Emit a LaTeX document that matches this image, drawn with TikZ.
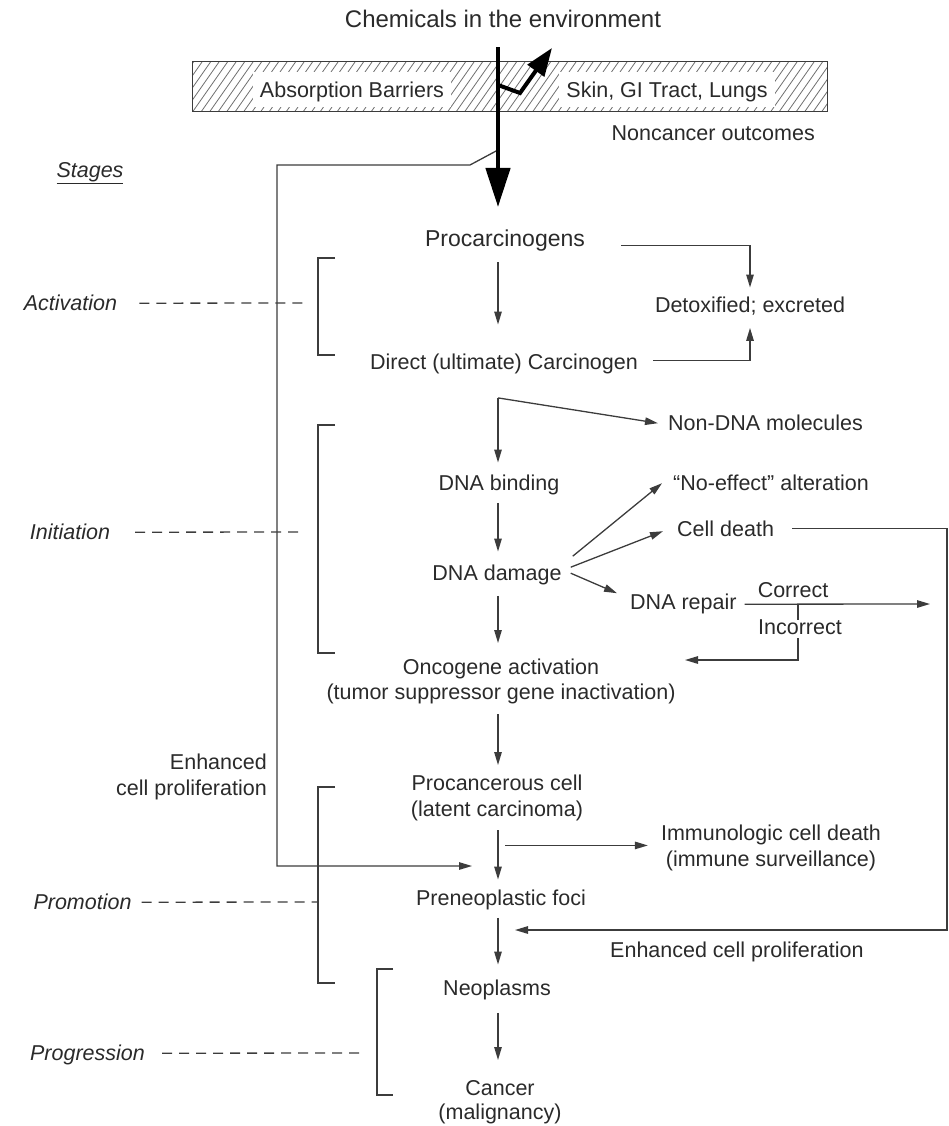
\documentclass[tikz,border=0pt]{standalone}
\usepackage{fontspec}
\setmainfont{Liberation Sans}
\usetikzlibrary{arrows.meta,calc}
\definecolor{lnc}{HTML}{3C3C3C}
\definecolor{tx}{HTML}{2A2A2A}
\definecolor{hat}{HTML}{707070}
\begin{document}
\begin{tikzpicture}[x=1pt,y=-1pt,
  every node/.style={inner sep=0pt, text=tx},
  lbl/.style={font=\fontsize{21.5}{26}\selectfont, text height=16pt, text depth=5pt, anchor=base},
  lbltwo/.style={font=\fontsize{21.5}{26}\selectfont, align=center, anchor=north},
  stg/.style={font=\fontsize{21.5}{26}\selectfont\itshape, text height=16pt, text depth=5pt, anchor=base},
  barlbl/.style={lbl, fill=white, text depth=0pt, inner ysep=9.7pt, inner xsep=7pt},
  ln/.style={draw=lnc, line width=1.3pt},
  arr/.style={ln, -{Triangle[length=13pt,width=7.5pt]}},
  dsh/.style={draw=lnc, line width=1.3pt, dash pattern=on 10pt off 7pt},
  brk/.style={draw=lnc, line width=1.3pt},
]
\useasboundingbox (0,0) rectangle (949,1126);
\coordinate (mc) at (498,0);

% ---------- absorption barrier bar ----------
\begin{scope}
  \clip (192,62) rectangle (827,112);
  \foreach \x in {150,158.5,...,840} {
    \draw[hat, line width=0.8pt] (\x,112) -- (\x+35,62);
  }
\end{scope}
\draw[lnc, line width=1pt] (192,62) rectangle (827,112);
\node[barlbl] (absorb) at (352,97.7) {Absorption Barriers};
\node[barlbl] (skin) at (667,97.7) {Skin, GI Tract, Lungs};

% ---------- texts ----------
\node[lbl, font=\fontsize{24}{28}\selectfont, text height=17pt] (title) at (503,27.5) {Chemicals in the environment};
\node[lbl, anchor=base east] (noncancer) at (815,140.7) {Noncancer outcomes};
\node[stg] (stages) at (90,177.7) {\underline{Stages}};

\node[lbl, font=\fontsize{23}{27}\selectfont, text height=17pt] (procarc) at (505,246.2) {Procarcinogens};
\node[lbl] (direct) at (504,369.7) {Direct (ultimate) Carcinogen};
\node[lbl] (detox) at (750,312.7) {Detoxified; excreted};

\node[lbl, anchor=base west] (nondna) at (668,430.7) {Non-DNA molecules};
\node[lbl] (dnabind) at (499,490.7) {DNA binding};
\node[lbl, anchor=base west] (noeffect) at (673,490.7) {“No-effect” alteration};
\node[lbl, anchor=base west] (celldeath) at (677,536.7) {Cell death};
\node[lbl] (dnadamage) at (497,580.7) {DNA damage};
\node[lbl, anchor=base west] (dnarepair) at (630,609.7) {DNA repair};
\node[lbl] (correct) at (793,597.7) {Correct};

\node[lbltwo] (oncogene) at (501,659) {Oncogene activation\\[-1pt](tumor suppressor gene inactivation)};
\node[lbltwo, align=right, anchor=north east] (enhleft) at (267,754) {Enhanced\\cell proliferation};
\node[lbltwo] (procancer) at (497,775) {Procancerous cell\\(latent carcinoma)};
\node[lbltwo] (immuno) at (771,825) {Immunologic cell death\\(immune surveillance)};
\node[lbl] (preneo) at (501,905.7) {Preneoplastic foci};
\node[lbl, anchor=base west] (enhright) at (610,957.7) {Enhanced cell proliferation};
\node[lbl] (neoplasms) at (497,995.7) {Neoplasms};
\node[lbltwo] (cancer) at (500,1080) {Cancer\\[-2pt](malignancy)};

% stage labels
\node[stg] (activation) at (70.5,310.7) {Activation};
\node[stg] (initiation) at (70,539.7) {Initiation};
\node[stg] (promotion) at (82.5,909.7) {Promotion};
\node[stg] (progression) at (87.5,1060.7) {Progression};

% ---------- stage dashes and brackets ----------
\coordinate (actEnd) at (303,303);
\coordinate (iniEnd) at (303,532);
\coordinate (proEnd) at (318,902);
\coordinate (prgEnd) at (360,1053);
\draw[dsh] ([shift={(22,-2)}]activation.east) -- (actEnd);
\draw[dsh] ([shift={(25,-2)}]initiation.east) -- (iniEnd);
\draw[dsh] ([shift={(10,-2)}]promotion.east) -- (proEnd);
\draw[dsh] ([shift={(17,-2)}]progression.east) -- (prgEnd);

\draw[brk] (335,258) -- (318,258) -- (318,355) -- (335,355);
\draw[brk] (335,425) -- (318,425) -- (318,653) -- (335,653);
\draw[brk] (335,787) -- (318,787) -- (318,983) -- (335,983);
\draw[brk] (393,969) -- (377,969) -- (377,1095) -- (393,1095);

% ---------- main flow ----------
\draw[arr] ([shift={(0,11)}]procarc.south -| mc) -- ([shift={(0,-29)}]direct.north -| mc);
\draw[arr] ([shift={(36,5)}]procarc.east) -| ([shift={(0,-9)}]detox.north);
\draw[arr] ([shift={(15,-4)}]direct.east) -| ([shift={(0,10)}]detox.south);

\coordinate (split) at ([shift={(0,23)}]direct.south -| mc);
\draw[arr] (split) -- ([shift={(0,-12)}]dnabind.north -| mc);
\draw[arr] (split) -- ([shift={(-10,-2)}]nondna.west);

\draw[arr] ([shift={(0,7)}]dnabind.south -| mc) -- ([shift={(0,-13)}]dnadamage.north -| mc);
\draw[arr] ([shift={(11,-19)}]dnadamage.east) -- ([shift={(-11,-2)}]noeffect.west);
\draw[arr] ([shift={(9,-8)}]dnadamage.east) -- ([shift={(-14,0)}]celldeath.west);
\draw[arr] ([shift={(9,-2)}]dnadamage.east) -- ([shift={(-13,-11)}]dnarepair.west);

\coordinate (corrEnd) at (930,604);
\coordinate (incTip) at (685,660);
\coordinate (br) at (798,604);
\draw[arr] ([shift={(8,0)}]dnarepair.east) -- (corrEnd);
\draw[arr] (br) |- (incTip);
\node[lbl, fill=white, inner xsep=1pt, text height=15pt, text depth=3pt] (incorrect) at (800,634.7) {Incorrect};

\draw[arr] ([shift={(0,10)}]dnadamage.south -| mc) -- ([shift={(0,-16)}]oncogene.north -| mc);
\draw[arr] ([shift={(0,10)}]oncogene.south -| mc) -- ([shift={(0,-10)}]procancer.north -| mc);
\draw[arr] ([shift={(0,9)}]procancer.south -| mc) -- ([shift={(0,-10)}]preneo.north -| mc);
\coordinate (imStart) at ([shift={(7,24)}]procancer.south -| mc);
\coordinate (imTip) at ([shift={(-13,0)}]immuno.west);
\draw[arr] (imStart) -- (imStart -| imTip);
\draw[arr] ([shift={(0,7)}]preneo.south -| mc) -- ([shift={(0,-15)}]neoplasms.north -| mc);
\draw[arr] ([shift={(0,12)}]neoplasms.south -| mc) -- ([shift={(0,-20)}]cancer.north -| mc);

% right feedback loop
\coordinate (rcorner) at (947,930);
\coordinate (enhTip) at (515,930);
\draw[arr] ([shift={(18,-3)}]celldeath.east) -| (rcorner) -- (enhTip);

% left feedback loop
\coordinate (lstart) at (498,150);
\coordinate (lTip) at (472,866);
\draw[arr] (lstart) -- (470,165) -- (277,165) -- (277,866) -- (lTip);

% thick arrow and noncancer branch
\coordinate (ncStart) at (498,85);
\coordinate (ncTip) at (552,48);
\draw[draw=black, line width=4pt, line join=miter, -{Triangle[length=28pt,width=20pt]}] (ncStart) -- (520,93) -- (ncTip);
\draw[draw=black, line width=4.5pt, -{Triangle[length=39pt,width=24pt]}] ([shift={(0,14.5)}]title.south -| mc) -- ([shift={(0,-22)}]procarc.north -| mc);
\end{tikzpicture}
\end{document}
